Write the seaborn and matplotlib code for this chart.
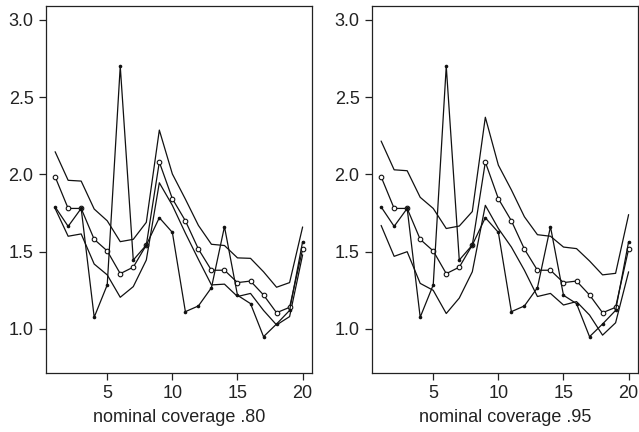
import numpy as np
import pandas as pd
import matplotlib
matplotlib.use("Agg")
import matplotlib.pyplot as plt
import seaborn as sns

x = list(range(1, 21))

observed = [1.79, 1.664, 1.78, 1.076, 1.285, 2.70, 1.446, 1.543, 1.72, 1.625,
            1.112, 1.149, 1.267, 1.662, 1.218, 1.164, 0.95, 1.032, 1.12, 1.565]
mean = [1.985, 1.78, 1.78, 1.58, 1.505, 1.358, 1.40, 1.543, 2.08, 1.843,
        1.70, 1.517, 1.38, 1.38, 1.30, 1.31, 1.22, 1.105, 1.14, 1.517]

upper80 = [2.147, 1.962, 1.957, 1.776, 1.70, 1.565, 1.58, 1.69, 2.287, 2.003,
           1.84, 1.67, 1.548, 1.54, 1.46, 1.457, 1.37, 1.27, 1.30, 1.66]
lower80 = [1.78, 1.60, 1.615, 1.42, 1.35, 1.205, 1.274, 1.446, 1.946, 1.80,
           1.62, 1.45, 1.285, 1.29, 1.21, 1.23, 1.12, 1.026, 1.08, 1.48]

upper95 = [2.216, 2.03, 2.024, 1.852, 1.78, 1.65, 1.666, 1.76, 2.37, 2.06,
           1.90, 1.726, 1.61, 1.60, 1.53, 1.52, 1.44, 1.35, 1.36, 1.74]
lower95 = [1.67, 1.47, 1.50, 1.295, 1.25, 1.10, 1.20, 1.37, 1.80, 1.65,
           1.53, 1.38, 1.21, 1.23, 1.155, 1.177, 1.09, 0.96, 1.04, 1.37]

xticks = [5, 10, 15, 20]
yticks = [1.0, 1.5, 2.0, 2.5, 3.0]
titles = ["nominal coverage .80", "nominal coverage .95"]

sns.set_style("ticks")
plt.rcParams['font.family'] = ['Liberation Sans', 'DejaVu Sans']

fig = plt.figure(figsize=(6.39, 4.32), dpi=100)
W, H = 639, 432
axes = [fig.add_axes([46 / W, (H - 373) / H, 266 / W, 367 / H]),
        fig.add_axes([372 / W, (H - 373) / H, 266 / W, 367 / H])]

bounds = [(upper80, lower80), (upper95, lower95)]
for ax, (up, lo), title in zip(axes, bounds, titles):
    df = pd.DataFrame({"x": x, "upper": up, "lower": lo,
                       "mean": mean, "observed": observed})
    sns.lineplot(data=df, x="x", y="upper", ax=ax, color="#111111", lw=0.9)
    sns.lineplot(data=df, x="x", y="lower", ax=ax, color="#111111", lw=0.9)
    sns.lineplot(data=df, x="x", y="mean", ax=ax, color="#111111", lw=0.9,
                 marker="o", markersize=3.3, markerfacecolor="white",
                 markeredgecolor="#111111", markeredgewidth=0.8)
    sns.lineplot(data=df, x="x", y="observed", ax=ax, color="#111111", lw=0.9,
                 marker="o", markersize=2.6, markerfacecolor="#111111",
                 markeredgecolor="#111111", markeredgewidth=0)
    ax.set_xlim(0.3, 20.72)
    ax.set_ylim(0.715, 3.09)
    ax.set_xticks(xticks)
    ax.set_xticklabels([str(t) for t in xticks])
    ax.set_yticks(yticks)
    ax.set_yticklabels([f"{t:.1f}" for t in yticks])
    ax.set_xlabel(title, fontsize=13, color="#222222", labelpad=5)
    ax.set_ylabel("")
    ax.tick_params(axis="both", labelsize=13, colors="#222222", length=5,
                   width=0.9, direction="out", pad=4)
    for s in ax.spines.values():
        s.set_visible(True)
        s.set_color("#222222")
        s.set_linewidth(0.9)

fig.savefig("out.png", dpi=100)
